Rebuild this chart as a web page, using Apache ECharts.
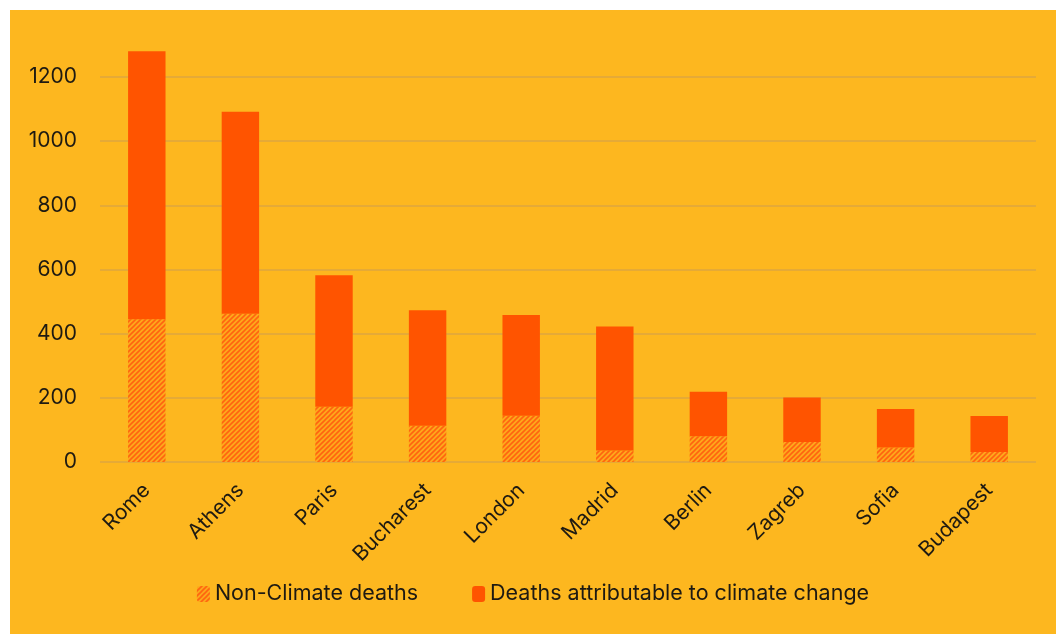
<!DOCTYPE html>
<html><head><meta charset="utf-8">
<script src="https://cdn.jsdelivr.net/npm/echarts@6/dist/echarts.min.js"></script>
<style>
html,body{margin:0;padding:0;background:#ffffff;width:1056px;height:634px;overflow:hidden;}
#c{position:absolute;left:10px;top:10px;width:1046px;height:624px;background:#FDB71F;}
</style></head>
<body><div id="c"></div>
<script>
const cities = ['Rome','Athens','Paris','Bucharest','London','Madrid','Berlin','Zagreb','Sofia','Budapest'];
const nonClimateDeaths = [445, 462, 172, 113, 144, 36, 80, 62, 45, 31];
const climateDeaths = [835, 630, 410, 360, 314, 386, 139, 139, 120, 112];
const yTicks = [0, 200, 400, 600, 800, 1000, 1200];

function hatch(){
  const s = 5, c = document.createElement('canvas');
  c.width = s; c.height = s;
  const g = c.getContext('2d');
  g.fillStyle = '#FDA91C'; g.fillRect(0,0,s,s);
  g.strokeStyle = '#FF6410'; g.lineWidth = 1.6;
  g.beginPath();
  g.moveTo(-1,1); g.lineTo(1,-1);
  g.moveTo(0,s); g.lineTo(s,0);
  g.moveTo(s-1,s+1); g.lineTo(s+1,s-1);
  g.stroke();
  return {image: c, repeat: 'repeat'};
}
const font = 'Inter, "Liberation Sans", sans-serif';
const chart = echarts.init(document.getElementById('c'), null, {renderer:'canvas'});
chart.setOption({
  backgroundColor: '#FDB71F',
  animation: false,
  grid: {left: 90, right: 20, top: 67, bottom: 172},
  legend: {
    top: 568, left: 'center', itemGap: 54, itemWidth: 13, itemHeight: 16,
    textStyle: {fontFamily: font, fontSize: 21.5, color: '#1e1a12'},
    data: ['Non-Climate deaths', 'Deaths attributable to climate change']
  },
  xAxis: {
    type: 'category', data: cities,
    axisLine: {show: false}, axisTick: {show: false},
    axisLabel: {rotate: 45, margin: 25, fontFamily: font, fontSize: 21, color: '#1e1a12'}
  },
  yAxis: {
    type: 'value', min: yTicks[0], max: yTicks[yTicks.length-1], interval: yTicks[1]-yTicks[0],
    axisLine: {show: false}, axisTick: {show: false},
    axisLabel: {margin: 23, fontFamily: font, fontSize: 21, color: '#1e1a12', formatter: v => String(v)},
    splitLine: {lineStyle: {color: '#DDA640', width: 1.5}}
  },
  series: [
    {name: 'Non-Climate deaths', type: 'bar', stack: 'd', barWidth: '40%', clip: false,
     itemStyle: {color: hatch()}, data: nonClimateDeaths},
    {name: 'Deaths attributable to climate change', type: 'bar', stack: 'd', barWidth: '40%', clip: false,
     itemStyle: {color: '#FF5400'}, data: climateDeaths}
  ]
});
</script></body></html>
